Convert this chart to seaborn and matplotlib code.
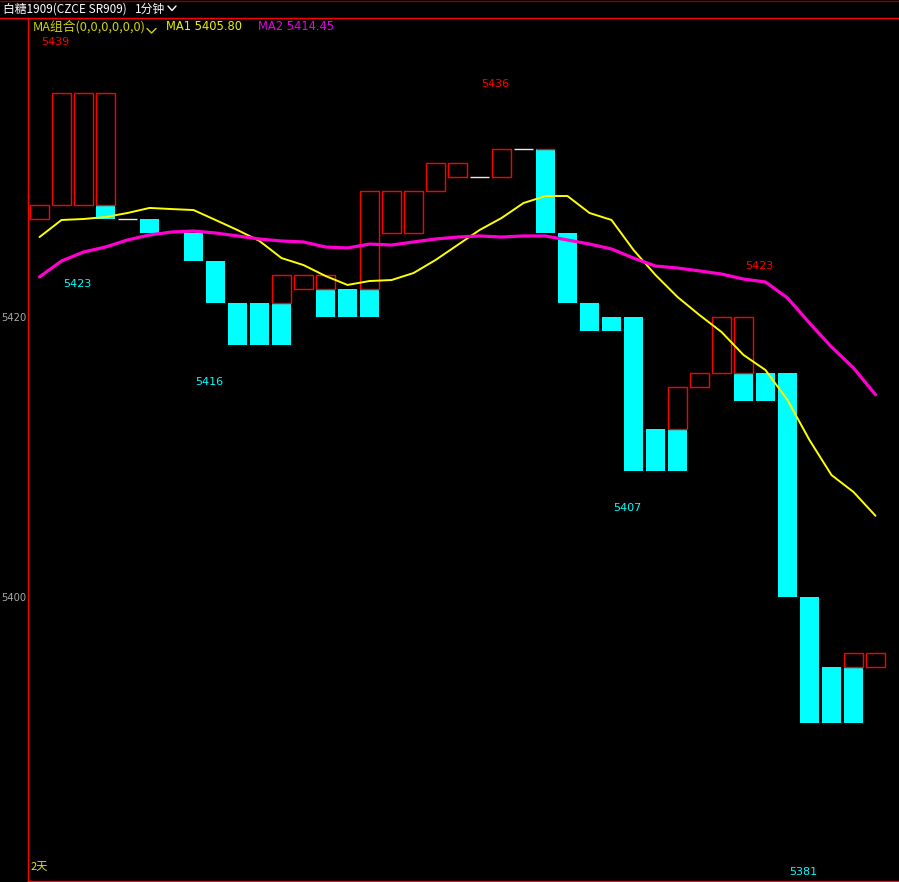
import matplotlib
matplotlib.use("Agg")
import matplotlib.pyplot as plt
import seaborn as sns
import pandas as pd
from matplotlib.lines import Line2D

# ---------------- data ----------------
slots = list(range(39))
ma1 = [5425.71, 5426.93, 5427.00, 5427.14, 5427.43, 5427.79, 5427.71, 5427.64,
       5426.93, 5426.21, 5425.43, 5424.21, 5423.71, 5422.93, 5422.29, 5422.57,
       5422.64, 5423.14, 5424.07, 5425.14, 5426.21, 5427.07, 5428.14, 5428.64,
       5428.64, 5427.43, 5426.93, 5424.79, 5423.00, 5421.43, 5420.14, 5418.93,
       5417.29, 5416.21, 5414.07, 5411.21, 5408.71, 5407.50, 5405.80]
ma2 = [5422.86, 5424.00, 5424.64, 5425.00, 5425.50, 5425.86, 5426.07, 5426.14,
       5426.00, 5425.79, 5425.57, 5425.43, 5425.36, 5425.00, 5424.93, 5425.21,
       5425.14, 5425.36, 5425.57, 5425.71, 5425.79, 5425.71, 5425.79, 5425.79,
       5425.50, 5425.21, 5424.86, 5424.21, 5423.64, 5423.50, 5423.29, 5423.07,
       5422.71, 5422.50, 5421.36, 5419.57, 5417.86, 5416.36, 5414.45]

up_slot = [0, 1, 2, 3, 11, 12, 13, 15, 16, 17, 18, 19, 21, 23, 29, 30, 31, 32, 37, 38]
up_low = [5427, 5428, 5428, 5428, 5421, 5422, 5422, 5422, 5426, 5426, 5429, 5430,
          5430, 5432, 5412, 5415, 5416, 5416, 5395, 5395]
up_high = [5428, 5436, 5436, 5436, 5423, 5423, 5423, 5429, 5429, 5429, 5431, 5431,
           5432, 5432, 5415, 5416, 5420, 5420, 5396, 5396]

down_slot = [3, 5, 7, 8, 9, 10, 11, 13, 14, 15, 23, 24, 25, 26, 27, 28, 29, 32, 33,
             34, 35, 36, 37]
down_low = [5427, 5426, 5424, 5421, 5418, 5418, 5418, 5420, 5420, 5420, 5426, 5421,
            5419, 5419, 5409, 5409, 5409, 5414, 5414, 5400, 5391, 5391, 5391]
down_high = [5428, 5427, 5426, 5424, 5421, 5421, 5421, 5422, 5422, 5422, 5432, 5426,
             5421, 5420, 5420, 5412, 5412, 5416, 5416, 5416, 5400, 5395, 5395]

doji_slot = [4, 20, 22]
doji_price = [5427, 5430, 5432]

high_mark_slot = [0, 20, 32]
high_mark_value = [5439, 5436, 5423]
low_mark_slot = [1, 7, 26, 34]
low_mark_value = [5423, 5416, 5407, 5381]

ytick_values = [5400, 5420]
title_text = "白糖1909(CZCE SR909)"
period_text = "1分钟"
ma_group_text = "MA组合(0,0,0,0,0,0)"
ma1_label = "MA1 5405.80"
ma2_label = "MA2 5414.45"
days_text = "2天"

# ---------------- style ----------------
sns.set_theme(style="dark", rc={
    "figure.facecolor": "black", "axes.facecolor": "black",
    "savefig.facecolor": "black", "axes.grid": False,
})
plt.rcParams["font.family"] = ["DejaVu Sans", "Noto Sans CJK SC"]

RED = "#ff0000"
CYAN = "#00ffff"
YELLOW = "#ffff00"
MAG = "#ff00d0"

W, H = 899, 882
fig = plt.figure(figsize=(W / 100, H / 100), dpi=100)
ax_left, ax_top, ax_bottom = 28, 17.5, 881
ax = fig.add_axes([ax_left / W, (H - ax_bottom) / H, (W - ax_left) / W,
                   (ax_bottom - ax_top) / H])
ax.set_facecolor("black")

# pixel mapping: slot 0 centre at x=39.5, 22 px per slot; 14 px per point, 5420 at y=317
x0 = -(39.5 - ax_left) / 22
ax.set_xlim(x0, x0 + (W - ax_left) / 22)
ax.set_ylim(5420 - (ax_bottom - 317) / 14, 5420 + (317 - ax_top) / 14)

# candles
ax.bar(down_slot, [h - l for l, h in zip(down_low, down_high)], bottom=down_low,
       width=0.86, color=CYAN, linewidth=0, zorder=2)
ax.bar(up_slot, [h - l for l, h in zip(up_low, up_high)], bottom=up_low,
       width=0.82, fill=False, edgecolor=RED, linewidth=1.0, zorder=3)
ax.hlines(doji_price, [s - 0.41 for s in doji_slot], [s + 0.41 for s in doji_slot],
          colors="#e8e8e8", linewidth=1.0, zorder=3)

# moving averages
df = pd.DataFrame({"slot": slots, "MA1": ma1, "MA2": ma2})
sns.lineplot(data=df, x="slot", y="MA1", color=YELLOW, linewidth=1.4, ax=ax, zorder=4)
sns.lineplot(data=df, x="slot", y="MA2", color=MAG, linewidth=2.3, ax=ax, zorder=5)

# high / low markers
for s, v in zip(high_mark_slot, high_mark_value):
    ax.text(s + 0.07, v + 0.65, str(v), color=RED, fontsize=8, ha="left", va="center", zorder=6)
for s, v in zip(low_mark_slot, low_mark_value):
    ax.text(s + 0.07, v - 0.62, str(v), color=CYAN, fontsize=8, ha="left", va="center", zorder=6)

# axes styling
ax.set_xlabel("")
ax.set_ylabel("")
ax.set_xticks([])
ax.set_yticks(ytick_values)
ax.set_yticklabels([str(v) for v in ytick_values])
ax.tick_params(axis="y", length=0, pad=1.2, labelcolor="#a8a8a8", labelsize=7.2)
for side in ["top", "right"]:
    ax.spines[side].set_visible(False)
for side in ["left", "bottom"]:
    ax.spines[side].set_visible(True)
    ax.spines[side].set_color(RED)
    ax.spines[side].set_linewidth(1.0)

ax.text(0.0025, 0.0105, days_text, transform=ax.transAxes, color="#e6e600",
        fontsize=8, ha="left", va="bottom", family=["Noto Sans CJK SC", "DejaVu Sans"])


def fx(px):
    return px / W


def fy(py):
    return 1 - py / H


# header lines
fig.add_artist(Line2D([0, 1], [fy(1), fy(1)], transform=fig.transFigure, color="#8a0000", linewidth=1.0))
fig.add_artist(Line2D([0, 1], [fy(17.5), fy(17.5)], transform=fig.transFigure, color=RED, linewidth=1.0))

cjk = ["Noto Sans CJK SC", "DejaVu Sans"]
fig.text(fx(3), fy(9), title_text, color="white", fontsize=8.5, ha="left", va="center", family=cjk)
fig.text(fx(135), fy(9), period_text, color="white", fontsize=8.5, ha="left", va="center", family=cjk)
fig.add_artist(Line2D([fx(168), fx(172), fx(176)], [fy(6), fy(10.5), fy(6)],
                      transform=fig.transFigure, color="white", linewidth=1.0))

fig.text(fx(33), fy(26.5), ma_group_text, color="#d2d200", fontsize=9.2, ha="left", va="center", family=cjk)
fig.add_artist(Line2D([fx(147), fx(151.5), fx(156)], [fy(28.5), fy(33), fy(28.5)],
                      transform=fig.transFigure, color="#d2d200", linewidth=1.0))
fig.text(fx(166), fy(26.5), ma1_label, color="#f0f000", fontsize=8.3, ha="left", va="center")
fig.text(fx(258), fy(26.5), ma2_label, color="#e600e6", fontsize=8.3, ha="left", va="center")

fig.savefig("out.png", dpi=100, facecolor="black")
